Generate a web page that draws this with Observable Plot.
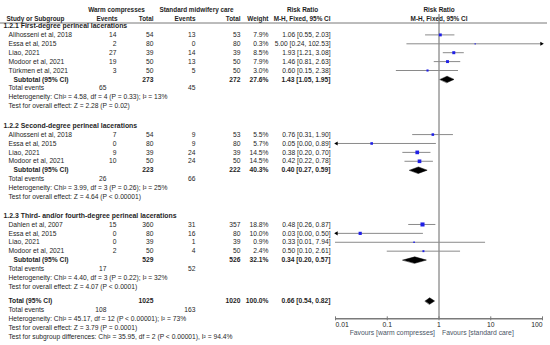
<!DOCTYPE html>
<html>
<head>
<meta charset="utf-8">
<script src="https://cdn.jsdelivr.net/npm/d3@7"></script>
<script src="https://cdn.jsdelivr.net/npm/@observablehq/plot@0.6"></script>
<style>
  html, body { margin: 0; padding: 0; background: #fff; }
  #chart svg { display: block; }
</style>
</head>
<body>
<div id="chart"></div>
<script>
// ---------- data ----------
const g1Title = "1.2.1 First-degree perineal lacerations";
const g1Study = ["Alihosseni et al, 2018", "Essa et al, 2015", "Liao, 2021", "Modoor et al, 2021", "Türkmen et al, 2021"];
const g1WarmEvents = [14, 2, 27, 19, 3];
const g1WarmTotal = [54, 80, 39, 50, 50];
const g1StdEvents = [13, 0, 14, 13, 5];
const g1StdTotal = [53, 80, 39, 50, 50];
const g1Weight = [7.9, 0.3, 8.5, 7.9, 3.0];
const g1RR = [1.06, 5.00, 1.93, 1.46, 0.60];
const g1Lo = [0.55, 0.24, 1.21, 0.81, 0.15];
const g1Hi = [2.03, 102.53, 3.08, 2.63, 2.38];

const g2Title = "1.2.2 Second-degree perineal lacerations";
const g2Study = ["Alihosseni et al, 2018", "Essa et al, 2015", "Liao, 2021", "Modoor et al, 2021"];
const g2WarmEvents = [7, 0, 9, 10];
const g2WarmTotal = [54, 80, 39, 50];
const g2StdEvents = [9, 9, 24, 24];
const g2StdTotal = [53, 80, 39, 50];
const g2Weight = [5.5, 5.7, 14.5, 14.5];
const g2RR = [0.76, 0.05, 0.38, 0.42];
const g2Lo = [0.31, 0.00, 0.20, 0.22];
const g2Hi = [1.90, 0.89, 0.70, 0.78];

const g3Title = "1.2.3 Third- and/or fourth-degree perineal lacerations";
const g3Study = ["Dahlen et al, 2007", "Essa et al, 2015", "Liao, 2021", "Modoor et al, 2021"];
const g3WarmEvents = [15, 0, 0, 2];
const g3WarmTotal = [360, 80, 39, 50];
const g3StdEvents = [31, 16, 1, 4];
const g3StdTotal = [357, 80, 39, 50];
const g3Weight = [18.8, 10.0, 0.9, 2.4];
const g3RR = [0.48, 0.03, 0.33, 0.50];
const g3Lo = [0.26, 0.00, 0.01, 0.10];
const g3Hi = [0.87, 0.50, 7.94, 2.61];

const subWarmTotal = [273, 223, 529];
const subStdTotal = [272, 222, 526];
const subWeight = [27.6, 40.3, 32.1];
const subRR = [1.43, 0.40, 0.34];
const subLo = [1.05, 0.27, 0.20];
const subHi = [1.95, 0.59, 0.57];
const subWarmEvents = [65, 26, 17];
const subStdEvents = [45, 66, 52];
const subHet = [
  "Heterogeneity: Chi² = 4.58, df = 4 (P = 0.33); I² = 13%",
  "Heterogeneity: Chi² = 3.99, df = 3 (P = 0.26); I² = 25%",
  "Heterogeneity: Chi² = 4.40, df = 3 (P = 0.22); I² = 32%"
];
const subTest = [
  "Test for overall effect: Z = 2.28 (P = 0.02)",
  "Test for overall effect: Z = 4.64 (P < 0.00001)",
  "Test for overall effect: Z = 4.07 (P < 0.0001)"
];

const totWarmTotal = 1025, totStdTotal = 1020, totWeight = 100.0;
const totRR = 0.66, totLo = 0.54, totHi = 0.82;
const totWarmEvents = 108, totStdEvents = 163;
const totHet = "Heterogeneity: Chi² = 45.17, df = 12 (P < 0.00001); I² = 73%";
const totTest = "Test for overall effect: Z = 3.79 (P = 0.0001)";
const subgroupTest = "Test for subgroup differences: Chi² = 35.95, df = 2 (P < 0.00001), I² = 94.4%";

const axisTicks = [0.01, 0.1, 1, 10, 100];
const favourLeft = "Favours [warm compresses]";
const favourRight = "Favours [standard care]";

// ---------- build rows ----------
const groups = [
  {title: g1Title, study: g1Study, we: g1WarmEvents, wt: g1WarmTotal, se: g1StdEvents, st: g1StdTotal, w: g1Weight, rr: g1RR, lo: g1Lo, hi: g1Hi},
  {title: g2Title, study: g2Study, we: g2WarmEvents, wt: g2WarmTotal, se: g2StdEvents, st: g2StdTotal, w: g2Weight, rr: g2RR, lo: g2Lo, hi: g2Hi},
  {title: g3Title, study: g3Study, we: g3WarmEvents, wt: g3WarmTotal, se: g3StdEvents, st: g3StdTotal, w: g3Weight, rr: g3RR, lo: g3Lo, hi: g3Hi}
];
const fmt2 = v => v.toFixed(2);
const ciText = (r, l, h) => `${fmt2(r)} [${fmt2(l)}, ${fmt2(h)}]`;
const XMIN = axisTicks[0], XMAX = axisTicks[axisTicks.length - 1];
const clip = v => Math.max(XMIN, Math.min(XMAX, v));

// layout: blank space (in rows) after each subgroup block
const GAP_AFTER = [1.2, 1.1, 0.6];

const sectionRows = [], studyRows = [], subRows = [], eventRows = [], noteRows = [], diamonds = [];
let s = 0;
function addDiamond(id, slot, rr, lo, hi) {
  const h = 0.36;
  diamonds.push({id, x: lo, y: slot}, {id, x: rr, y: slot - h}, {id, x: hi, y: slot}, {id, x: rr, y: slot + h});
}
groups.forEach((g, gi) => {
  sectionRows.push({slot: s++, text: g.title});
  g.study.forEach((name, i) => {
    studyRows.push({slot: s++, name, we: g.we[i], wt: g.wt[i], se: g.se[i], st: g.st[i], w: g.w[i], rr: g.rr[i], lo: g.lo[i], hi: g.hi[i]});
  });
  subRows.push({slot: s, label: "Subtotal (95% CI)", indent: 13, wt: subWarmTotal[gi], st: subStdTotal[gi], w: subWeight[gi], rr: subRR[gi], lo: subLo[gi], hi: subHi[gi]});
  addDiamond("g" + gi, s, subRR[gi], subLo[gi], subHi[gi]);
  s++;
  eventRows.push({slot: s++, we: subWarmEvents[gi], se: subStdEvents[gi]});
  noteRows.push({slot: s++, text: subHet[gi]});
  noteRows.push({slot: s++, text: subTest[gi]});
  s += GAP_AFTER[gi];
});
subRows.push({slot: s, label: "Total (95% CI)", indent: 8, wt: totWarmTotal, st: totStdTotal, w: totWeight, rr: totRR, lo: totLo, hi: totHi});
addDiamond("tot", s, totRR, totLo, totHi);
s++;
eventRows.push({slot: s++, we: totWarmEvents, se: totStdEvents});
noteRows.push({slot: s++, text: totHet});
const axisSlot = s - 1;
noteRows.push({slot: s++, text: totTest});
noteRows.push({slot: s++, text: subgroupTest});

// ---------- layout constants ----------
const ROW = 8.9, TOP = 25.5;
const px2slot = p => (p - TOP) / ROW;
const FS = 6.7;      // table text
const FH = 6.4;      // header text
const FT = 6.9;      // section titles
const FA = 6.8;      // axis text
const INK = "#1e1e1e";
const base = {frameAnchor: "left", fontSize: FS, fill: INK};

// columns (right edges)
const C_WE = 116, C_WT = 153, C_SE = 195, C_ST = 240, C_W = 268, C_RR = 330, C_TE = 106;

const headerTop = [
  {t: "Warm compresses", x: 116},
  {t: "Standard midwifery care", x: 196},
  {t: "Risk Ratio", x: 302},
  {t: "Risk Ratio", x: 438.5}
];
const headerBot = [
  {t: "Study or Subgroup", x: 6, a: "start"},
  {t: "Events", x: C_WE + 1, a: "end"},
  {t: "Total", x: C_WT, a: "end"},
  {t: "Events", x: C_SE, a: "end"},
  {t: "Total", x: C_ST, a: "end"},
  {t: "Weight", x: C_W, a: "end"},
  {t: "M-H, Fixed, 95% CI", x: C_RR, a: "end"},
  {t: "M-H, Fixed, 95% CI", x: 438.5, a: "middle"}
];
const hdr = (rows, slot, anchor) => {
  const data = rows.filter(d => (d.a || "middle") === anchor);
  return data.map(d => Plot.text([d], {
    ...base, fontSize: FH, y: () => slot, dx: d.x, text: "t", textAnchor: anchor, fontWeight: "bold"
  }));
};

const leftArrows = studyRows.filter(d => d.lo < XMIN);
const rightArrows = studyRows.filter(d => d.hi > XMAX);

const chart = Plot.plot({
  width: 550,
  height: 345,
  marginLeft: 0,
  marginRight: 3,
  marginTop: 0,
  marginBottom: 0,
  style: {fontFamily: "'Liberation Sans', Arial, sans-serif", background: "#fff"},
  x: {type: "log", domain: [XMIN, XMAX], range: [335, 542], axis: null},
  y: {type: "linear", domain: [0, 35], range: [TOP, TOP + 35 * ROW], axis: null},
  r: {type: "sqrt", domain: [0, 19], range: [0.45, 2.3]},
  marks: [
    // header
    ...hdr(headerTop, px2slot(9), "middle"),
    ...hdr(headerBot, px2slot(18), "start"),
    ...hdr(headerBot, px2slot(18), "end"),
    ...hdr(headerBot, px2slot(18), "middle"),
    Plot.ruleY([px2slot(22.5)], {stroke: "#555", strokeWidth: 0.8}),
    // line of no effect
    Plot.ruleX([1], {y1: px2slot(14), y2: axisSlot, stroke: "#666", strokeWidth: 1}),
    // section titles
    Plot.text(sectionRows, {...base, fontSize: FT, y: "slot", text: "text", dx: 3, textAnchor: "start", fontWeight: "bold"}),
    // study rows
    Plot.text(studyRows, {...base, y: "slot", text: "name", dx: 8, textAnchor: "start"}),
    Plot.text(studyRows, {...base, y: "slot", text: d => String(d.we), dx: C_WE, textAnchor: "end"}),
    Plot.text(studyRows, {...base, y: "slot", text: d => String(d.wt), dx: C_WT, textAnchor: "end"}),
    Plot.text(studyRows, {...base, y: "slot", text: d => String(d.se), dx: C_SE, textAnchor: "end"}),
    Plot.text(studyRows, {...base, y: "slot", text: d => String(d.st), dx: C_ST, textAnchor: "end"}),
    Plot.text(studyRows, {...base, y: "slot", text: d => d.w.toFixed(1) + "%", dx: C_W, textAnchor: "end"}),
    Plot.text(studyRows, {...base, y: "slot", text: d => ciText(d.rr, d.lo, d.hi), dx: C_RR, textAnchor: "end"}),
    // subtotal rows
    ...subRows.map(d => Plot.text([d], {...base, y: "slot", text: "label", dx: d.indent, textAnchor: "start", fontWeight: "bold"})),
    Plot.text(subRows, {...base, y: "slot", text: d => String(d.wt), dx: C_WT, textAnchor: "end", fontWeight: "bold"}),
    Plot.text(subRows, {...base, y: "slot", text: d => String(d.st), dx: C_ST, textAnchor: "end", fontWeight: "bold"}),
    Plot.text(subRows, {...base, y: "slot", text: d => d.w.toFixed(1) + "%", dx: C_W, textAnchor: "end", fontWeight: "bold"}),
    Plot.text(subRows, {...base, y: "slot", text: d => ciText(d.rr, d.lo, d.hi), dx: C_RR, textAnchor: "end", fontWeight: "bold"}),
    // total events
    Plot.text(eventRows, {...base, y: "slot", text: () => "Total events", dx: 8, textAnchor: "start"}),
    Plot.text(eventRows, {...base, y: "slot", text: d => String(d.we), dx: C_TE, textAnchor: "end"}),
    Plot.text(eventRows, {...base, y: "slot", text: d => String(d.se), dx: C_SE, textAnchor: "end"}),
    // notes
    Plot.text(noteRows, {...base, y: "slot", text: "text", dx: 8, textAnchor: "start"}),
    // confidence intervals
    Plot.ruleY(studyRows, {y: "slot", x1: d => clip(d.lo), x2: d => clip(d.hi), stroke: "#8a8a8a", strokeWidth: 1}),
    Plot.dot(leftArrows, {x: () => XMIN, y: "slot", symbol: "triangle", rotate: -90, r: 1.5, fill: "#000", dx: 1}),
    Plot.dot(rightArrows, {x: () => XMAX, y: "slot", symbol: "triangle", rotate: 90, r: 1.5, fill: "#000", dx: -1}),
    Plot.dot(studyRows, {x: "rr", y: "slot", r: "w", symbol: "square", fill: "#1f1fe6", stroke: null}),
    // diamonds
    Plot.line(diamonds, {x: "x", y: "y", z: "id", curve: "linear-closed", fill: "#000", stroke: "#000", strokeWidth: 0.5}),
    // axis
    Plot.ruleY([axisSlot], {x1: XMIN, x2: XMAX, stroke: "#7a7a7a", strokeWidth: 1.5}),
    Plot.ruleX(axisTicks, {x: d => d, y1: axisSlot - 0.22, y2: axisSlot + 0.22, stroke: "#7a7a7a", strokeWidth: 1}),
    Plot.text(axisTicks.slice(0, 1), {x: d => d, y: () => axisSlot, dy: 6, text: d => String(d), textAnchor: "start", fontSize: FA, fill: INK}),
    Plot.text(axisTicks.slice(1, -1), {x: d => d, y: () => axisSlot, dy: 6, text: d => String(d), textAnchor: "middle", fontSize: FA, fill: INK}),
    Plot.text(axisTicks.slice(-1), {x: d => d, y: () => axisSlot, dy: 6, text: d => String(d), textAnchor: "end", fontSize: FA, fill: INK}),
    Plot.text([favourLeft], {x: () => 1, y: () => axisSlot, dy: 14, dx: -4, text: d => d, textAnchor: "end", fontSize: FA, fill: "#4a5566"}),
    Plot.text([favourRight], {x: () => 1, y: () => axisSlot, dy: 14, dx: 3, text: d => d, textAnchor: "start", fontSize: FA, fill: "#4a5566"})
  ]
});
document.getElementById("chart").appendChild(chart);
</script>
</body>
</html>
